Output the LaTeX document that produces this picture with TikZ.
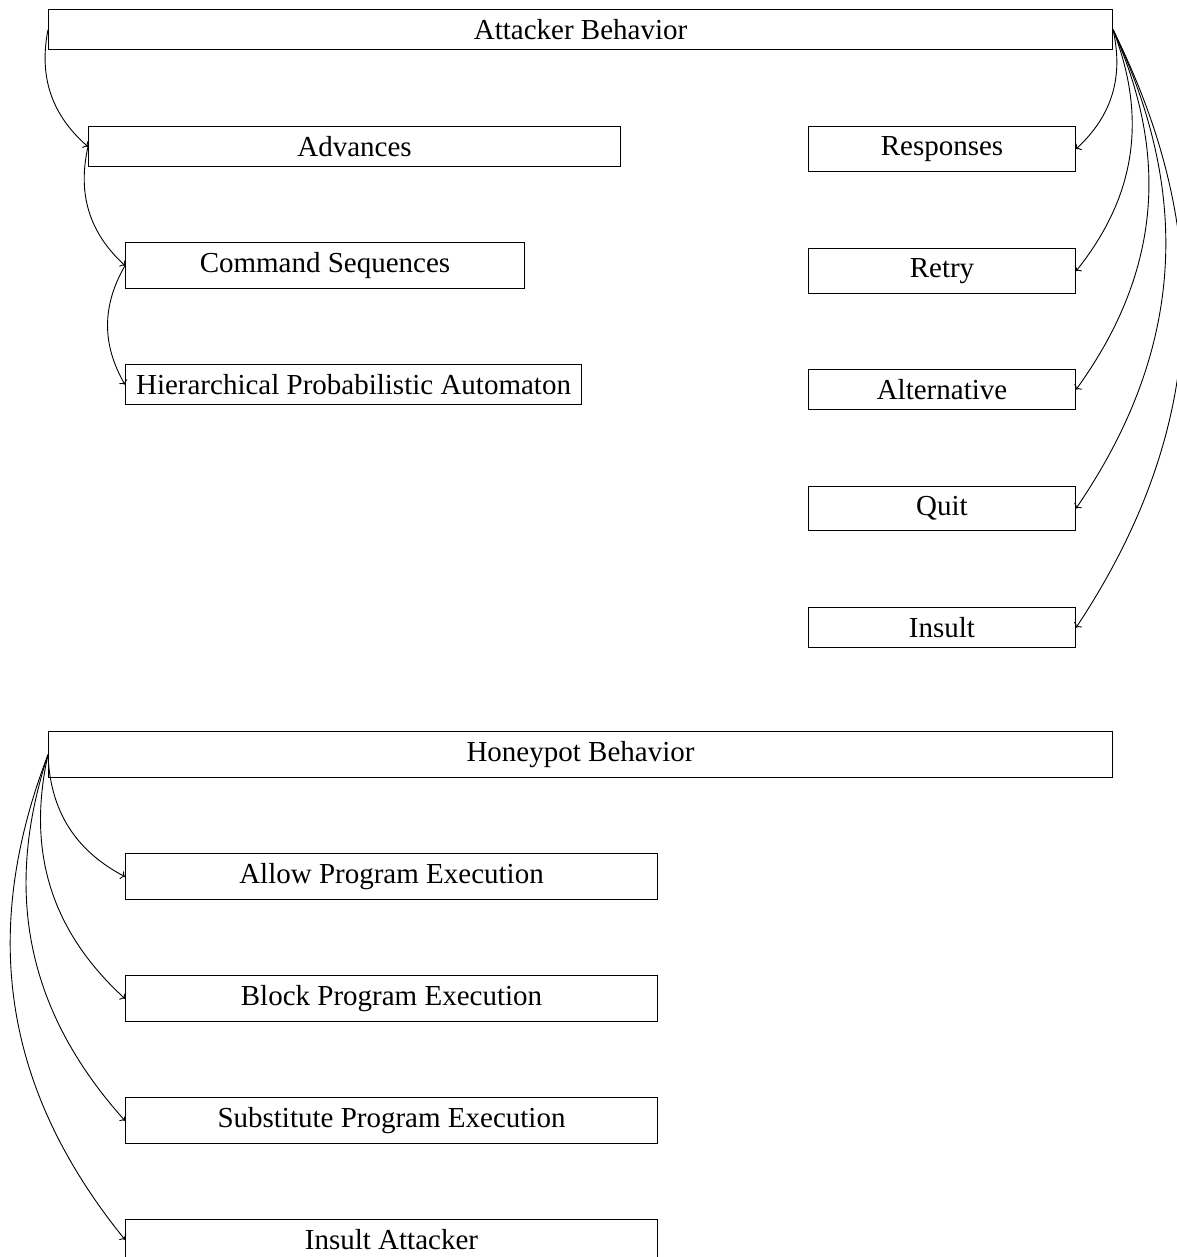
\documentclass[tikz,border=0pt]{standalone}
\usepackage{fontspec}
\setmainfont{Liberation Serif}
\usepackage{tikz}
\usetikzlibrary{arrows.meta}

\begin{document}
\begin{tikzpicture}[x=1pt, y=-1pt,
        box/.style={draw, line width=1pt, inner xsep=0pt, inner ysep=10pt,
            font=\fontsize{29}{34}\selectfont},
        link/.style={-{To[length=4pt, width=9pt]}, line width=0.9pt}]
            \useasboundingbox (0,0) rectangle (1176,1257);
            % attacker side
            \node[box, anchor=north west, minimum width=1064pt] (attacker) at (48,9) {Attacker Behavior};
            \node[box, anchor=north west, minimum width=532pt] (advances) at (88,126) {Advances};
            \node[box, anchor=north west, minimum width=399pt] (cmdseq) at (125,242) {Command Sequences};
            \node[box, anchor=north west, minimum width=456pt] (hpa) at (125,364) {Hierarchical Probabilistic Automaton};
            \node[box, anchor=north east, minimum width=267pt] (responses) at (1076,126) {Responses};
            \node[box, anchor=north east, minimum width=267pt] (retry) at (1076,248) {Retry};
            \node[box, anchor=north east, minimum width=267pt] (alternative) at (1076,369) {Alternative};
            \node[box, anchor=north east, minimum width=267pt] (quit) at (1076,486) {Quit};
            \node[box, anchor=north east, minimum width=267pt] (insult) at (1076,607) {Insult};
            % honeypot side
            \node[box, anchor=north west, minimum width=1064pt] (honeypot) at (48,731) {Honeypot Behavior};
            \node[box, anchor=north west, minimum width=532pt] (allow) at (125,853) {Allow Program Execution};
            \node[box, anchor=north west, minimum width=532pt] (block) at (125,975) {Block Program Execution};
            \node[box, anchor=north west, minimum width=532pt] (subst) at (125,1097) {Substitute Program Execution};
            \node[box, anchor=north west, minimum width=532pt] (insultatt) at (125,1219) {Insult Attacker};

            \draw[link] (attacker.west) to[bend right] (advances.west);
            \draw[link] (advances.west) to[bend right] (cmdseq.west);
            \draw[link] (cmdseq.west) to[bend right] (hpa.west);
            \foreach \n in {responses, retry, alternative, quit, insult}
                \draw[link] (attacker.east) to[bend left] (\n.east);
            \foreach \n in {allow, block, subst, insultatt}
                \draw[link] (honeypot.west) to[bend right] (\n.west);
        \end{tikzpicture}
\end{document}
